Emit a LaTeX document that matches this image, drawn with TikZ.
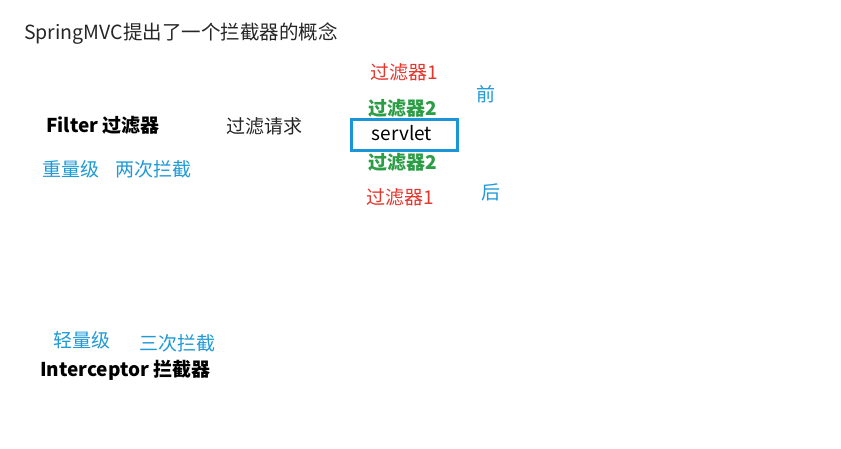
\documentclass[tikz,border=0pt]{standalone}
\usepackage{fontspec}
\setmainfont{Noto Sans CJK SC}
\definecolor{myred}{HTML}{E5362E}
\definecolor{mygreen}{HTML}{2A9D45}
\definecolor{myblue}{HTML}{1E9AD6}
\definecolor{boxblue}{HTML}{1A95D8}
\begin{document}
\begin{tikzpicture}[x=1pt,y=-1pt,
  txt/.style={anchor=west,inner sep=0pt,font=\fontsize{19}{22}\selectfont},
  dark/.style={txt,text=black!85},
  bolddark/.style={txt,text=black,font=\fontsize{19}{22}\selectfont\bfseries},
  bluet/.style={txt,text=myblue},
  redt/.style={txt,text=myred},
  greent/.style={txt,text=mygreen,font=\fontsize{19}{22}\selectfont\bfseries},
  boxstyle/.style={draw=boxblue,line width=3pt,minimum width=106pt,minimum height=31pt,inner sep=0pt}]
\useasboundingbox[fill=white] (0,0) rectangle (841,448);
\node[dark,font=\fontsize{19.5}{22}\selectfont] (title) at (24,34) {SpringMVC提出了一个拦截器的概念};
\node[bolddark] (filter) at (46,125) {Filter 过滤器};
\node[dark] (req) at (226,126) {过滤请求};
\node[bluet] (heavy) at (42,169) {重量级};
\node[bluet] (twice) at (115,169) {两次拦截};
\node[redt] (f1a) at (370,72) {过滤器1};
\node[greent] (f2a) at (368,108) {过滤器2};
\node[boxstyle] (servlet) at (404.5,135) {};
\node[txt,text=black,anchor=center] (stext) at (402,133) {servlet};
\node[greent] (f2b) at (368,162) {过滤器2};
\node[redt] (f1b) at (366,197) {过滤器1};
\node[bluet] (front) at (476,94) {前};
\node[bluet] (back) at (481,192) {后};
\node[bluet] (light) at (53,340) {轻量级};
\node[bluet] (thrice) at (139,343) {三次拦截};
\node[bolddark] (inter) at (40,370) {Interceptor 拦截器};
\end{tikzpicture}
\end{document}
